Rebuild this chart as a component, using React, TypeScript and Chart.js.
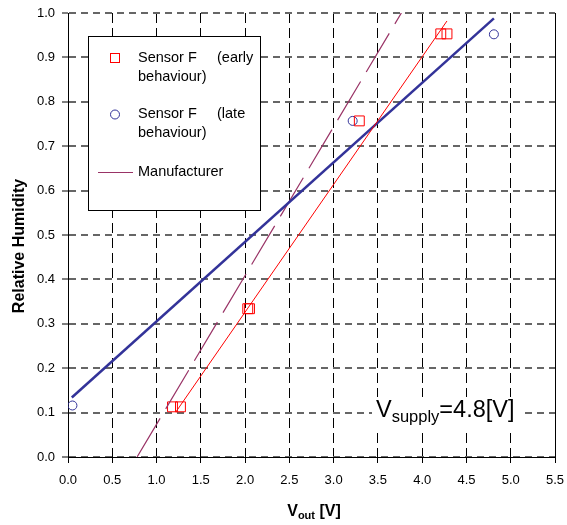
import React, { useEffect, useRef } from 'react';
import { Chart, registerables } from 'chart.js';

Chart.register(...registerables);

// ---- data ----
const earlyX = [1.18, 1.27, 2.03, 2.05, 3.29, 4.21, 4.28];
const earlyY = [0.113, 0.113, 0.334, 0.334, 0.757, 0.953, 0.953];
const lateX = [0.05, 3.215, 4.81];
const lateY = [0.116, 0.757, 0.952];
const earlyFitX = [1.22, 4.28];
const earlyFitY = [0.102, 0.982];
const lateFitX = [0.043, 4.81];
const lateFitY = [0.134, 0.988];
const mfrX = [0.78, 3.765];
const mfrY = [0.0, 1.0];
const xTicks = [0, 0.5, 1, 1.5, 2, 2.5, 3, 3.5, 4, 4.5, 5, 5.5];
const yTicks = [0, 0.1, 0.2, 0.3, 0.4, 0.5, 0.6, 0.7, 0.8, 0.9, 1.0];

const zip = (xs: number[], ys: number[]) => xs.map((x, i) => ({ x, y: ys[i] }));

const FONT = '"Liberation Sans", Arial, sans-serif';
const RED = '#ff0000';
const BLUE = '#333399';
const PLUM = '#993366';

const overlay = {
  id: 'overlay',
  afterDraw(chart: any) {
    const ctx = chart.ctx as CanvasRenderingContext2D;
    const a = chart.chartArea;
    ctx.save();
    // right border
    ctx.strokeStyle = '#000';
    ctx.lineWidth = 1;
    ctx.setLineDash([]);
    ctx.beginPath();
    ctx.moveTo(Math.round(a.right) + 0.5, a.top);
    ctx.lineTo(Math.round(a.right) + 0.5, a.bottom);
    ctx.stroke();

    // legend box
    ctx.fillStyle = '#fff';
    ctx.fillRect(88.5, 36.5, 172, 174);
    ctx.strokeStyle = '#000';
    ctx.strokeRect(88.5, 36.5, 172, 174);
    // markers
    ctx.strokeStyle = RED;
    ctx.strokeRect(110.5, 53.5, 9, 9);
    ctx.strokeStyle = BLUE;
    ctx.beginPath();
    ctx.arc(115, 114.5, 4.5, 0, Math.PI * 2);
    ctx.stroke();
    ctx.strokeStyle = PLUM;
    ctx.beginPath();
    ctx.moveTo(98, 172.5);
    ctx.lineTo(133, 172.5);
    ctx.stroke();
    // texts
    ctx.fillStyle = '#000';
    ctx.font = `14.5px ${FONT}`;
    ctx.textBaseline = 'middle';
    ctx.textAlign = 'left';
    ctx.fillText('Sensor F', 138, 58);
    ctx.fillText('(early', 217, 58);
    ctx.fillText('behaviour)', 138, 77);
    ctx.fillText('Sensor F', 138, 114);
    ctx.fillText('(late', 217, 114);
    ctx.fillText('behaviour)', 138, 133);
    ctx.fillText('Manufacturer', 138, 172);

    // annotation V_supply=4.8[V]
    ctx.fillStyle = '#fff';
    ctx.fillRect(372, 397, 150, 32);
    ctx.fillStyle = '#000';
    ctx.textBaseline = 'alphabetic';
    let x = 376;
    ctx.font = `23.5px ${FONT}`;
    ctx.fillText('V', x, 417);
    x += ctx.measureText('V').width;
    ctx.font = `16.5px ${FONT}`;
    ctx.fillText('supply', x, 422);
    x += ctx.measureText('supply').width;
    ctx.font = `23.5px ${FONT}`;
    ctx.fillText('=4.8[V]', x, 417);

    // x title
    ctx.font = `bold 16px ${FONT}`;
    const w1 = ctx.measureText('V').width;
    ctx.font = `bold 11px ${FONT}`;
    const w2 = ctx.measureText('out').width;
    ctx.font = `bold 16px ${FONT}`;
    const w3 = ctx.measureText(' [V]').width;
    let tx = 314 - (w1 + w2 + w3) / 2;
    ctx.fillText('V', tx, 516);
    tx += w1;
    ctx.font = `bold 11px ${FONT}`;
    ctx.fillText('out', tx, 519);
    tx += w2;
    ctx.font = `bold 16px ${FONT}`;
    ctx.fillText(' [V]', tx, 516);

    // y title
    ctx.save();
    ctx.translate(20, 246);
    ctx.rotate(-Math.PI / 2);
    ctx.textAlign = 'center';
    ctx.textBaseline = 'middle';
    ctx.font = `bold 16px ${FONT}`;
    ctx.fillText('Relative Humidity', 0, 0);
    ctx.restore();

    ctx.restore();
  },
};

export default function App() {
  const ref = useRef<HTMLCanvasElement | null>(null);
  useEffect(() => {
    document.body.style.margin = '0';
    const canvas = ref.current!;
    const chart = new Chart(canvas, {
      type: 'scatter',
      data: {
        datasets: [
          {
            label: 'Sensor F (early behaviour) fit',
            data: zip(earlyFitX, earlyFitY),
            showLine: true,
            borderColor: RED,
            borderWidth: 1,
            pointRadius: 0,
          },
          {
            label: 'Sensor F (late behaviour) fit',
            data: zip(lateFitX, lateFitY),
            showLine: true,
            borderColor: BLUE,
            borderWidth: 2.5,
            pointRadius: 0,
          },
          {
            label: 'Manufacturer',
            data: zip(mfrX, mfrY),
            showLine: true,
            borderColor: PLUM,
            borderWidth: 1.2,
            borderDash: [45, 11],
            pointRadius: 0,
          },
          {
            label: 'Sensor F (early behaviour)',
            data: zip(earlyX, earlyY),
            pointStyle: 'rect',
            pointRadius: 7,
            borderColor: RED,
            backgroundColor: 'rgba(0,0,0,0)',
            borderWidth: 1,
          },
          {
            label: 'Sensor F (late behaviour)',
            data: zip(lateX, lateY),
            pointStyle: 'circle',
            pointRadius: 4.5,
            borderColor: BLUE,
            backgroundColor: 'rgba(0,0,0,0)',
            borderWidth: 1,
          },
        ],
      },
      options: {
        responsive: false,
        animation: false,
        events: [],
        layout: { padding: { left: 0, top: 13, right: 12, bottom: 0 } },
        plugins: { legend: { display: false }, tooltip: { enabled: false } },
        scales: {
          x: {
            type: 'linear',
            min: 0,
            max: 5.5,
            afterBuildTicks: (s: any) => {
              s.ticks = xTicks.map((v) => ({ value: v }));
            },
            afterFit: (s: any) => {
              s.height = 68;
              s.paddingLeft = 0;
              s.paddingRight = 0;
            },
            ticks: {
              autoSkip: false,
              maxRotation: 0,
              padding: 10,
              color: '#000',
              font: { family: FONT, size: 13 },
              callback: (v: any) => Number(v).toFixed(1),
            },
            grid: { color: '#000', lineWidth: 1, tickLength: 6, tickColor: '#000', tickWidth: 1 },
            border: { display: true, color: '#000', width: 1, dash: [10, 5] },
          },
          y: {
            type: 'linear',
            min: 0,
            max: 1,
            afterBuildTicks: (s: any) => {
              s.ticks = yTicks.map((v) => ({ value: v }));
            },
            afterFit: (s: any) => {
              s.width = 68;
              s.paddingTop = 0;
              s.paddingBottom = 0;
            },
            ticks: {
              autoSkip: false,
              padding: 7,
              color: '#000',
              font: { family: FONT, size: 13 },
              callback: (v: any) => Number(v).toFixed(1),
            },
            grid: { color: '#666', lineWidth: 2, tickLength: 6, tickColor: '#000', tickWidth: 1 },
            border: { display: true, color: '#000', width: 1, dash: [7, 5] },
          },
        },
      },
      plugins: [overlay],
    });
    return () => chart.destroy();
  }, []);
  return <canvas ref={ref} width={567} height={525} style={{ display: 'block' }} />;
}
